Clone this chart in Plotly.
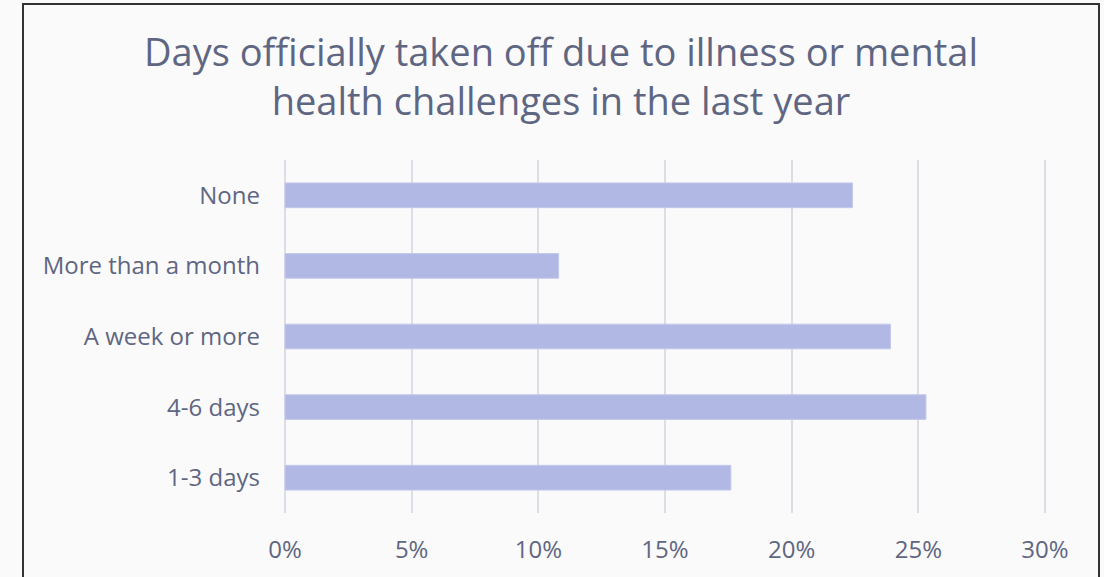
import plotly.graph_objects as go

categories = ["None", "More than a month", "A week or more", "4-6 days", "1-3 days"]
values = [22.4, 10.8, 23.9, 25.3, 17.6]
tick_vals = [0, 5, 10, 15, 20, 25, 30]
tick_text = ["0%", "5%", "10%", "15%", "20%", "25%", "30%"]
title_text = "Days officially taken off due to illness or mental<br>health challenges in the last year"

W, H = 1104, 577
ML, MR, MT, MB = 281, 55, 160, 64
pw, ph = W - ML - MR, H - MT - MB

text_color = "#5f6682"
font_family = "Open Sans, Noto Sans, sans-serif"

fig = go.Figure(go.Bar(
    x=values, y=categories, orientation="h",
    marker=dict(color="#b1b8e4", line=dict(color="#c4c9ec", width=1)),
    width=0.35,
))

def px_x(p):
    return (p - ML) / pw

def px_y(p):
    return (H - MB - p) / ph

fig.add_shape(type="rect", xref="paper", yref="paper",
              x0=px_x(23), x1=px_x(1099), y0=px_y(620), y1=px_y(4),
              line=dict(color="#333333", width=2), fillcolor="rgba(0,0,0,0)", layer="below")

fig.update_layout(
    width=W, height=H,
    margin=dict(l=ML, r=MR, t=MT, b=MB, pad=0),
    paper_bgcolor="#fafafa", plot_bgcolor="#fafafa",
    font=dict(family=font_family, color=text_color, size=24),
    title=dict(text=title_text, x=561 / W, xanchor="center", xref="container",
               y=1 - 66 / H, yanchor="top", yref="container",
               font=dict(size=38, color=text_color, family=font_family)),
    showlegend=False,
    bargap=0.65,
)
fig.update_xaxes(range=[-0.158, 30.158], tickvals=tick_vals, ticktext=tick_text,
                 showgrid=True, gridcolor="#dddde5", gridwidth=1.5,
                 zeroline=True, zerolinecolor="#dddde5", zerolinewidth=1.5,
                 showline=False, ticks="",
                 ticklabelstandoff=20, tickfont=dict(size=24, color=text_color))
fig.update_yaxes(categoryorder="array", categoryarray=categories, autorange="reversed",
                 showgrid=False, zeroline=False, showline=False, ticks="",
                 ticklabelstandoff=20, tickfont=dict(size=24, color=text_color))

fig.write_html("out.html", config={"displayModeBar": False},
               post_script="document.body.style.margin='0px';document.body.style.overflow='hidden';")
